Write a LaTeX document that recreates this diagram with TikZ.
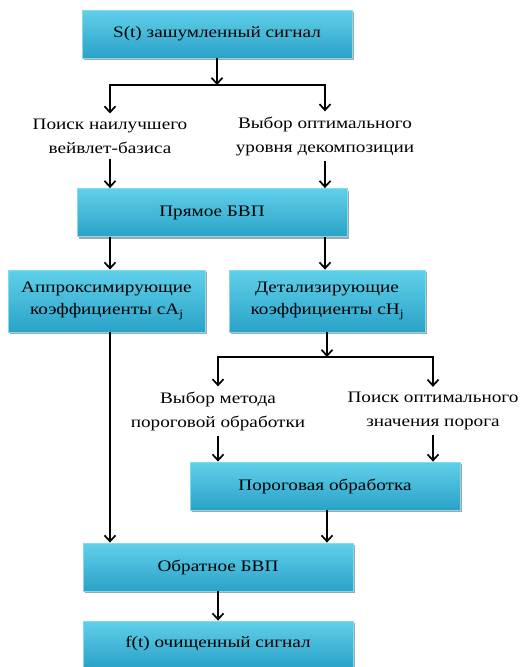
\documentclass[tikz,border=0pt]{standalone}
\usepackage{fontspec}
\setmainfont{Liberation Serif}[FakeStretch=1.2]
\usepackage{xcolor}
\usetikzlibrary{arrows.meta,shadows}

\definecolor{boxtop}{RGB}{96,208,234}
\definecolor{boxbot}{RGB}{42,162,200}
\definecolor{boxedge}{RGB}{130,218,238}

\begin{document}
\begin{tikzpicture}[x=1pt, y=-1pt,
    blk/.style={rectangle, draw=boxedge, line width=0.8pt, top color=boxtop, bottom color=boxbot,
        drop shadow={shadow xshift=2pt, shadow yshift=-2pt, opacity=0.35, fill=black},
        align=center, minimum width=270pt, minimum height=48pt, inner sep=0pt,
        font=\fontsize{16}{22}\selectfont},
    lbl/.style={align=center, inner sep=5pt, font=\fontsize{16}{24}\selectfont},
    arr/.style={-{Straight Barb[length=6pt,width=11pt]}, line width=1.7pt}]

    \useasboundingbox (0,0) rectangle (524,667);

    % Row 1: noisy signal
    \node[blk] (src) at (217,34) {S(t) зашумленный сигнал};
    \coordinate (j1) at (217,85);

    % Row 2: basis and level choice
    \node[lbl] (basis) at (110,136) {Поиск наилучшего\\вейвлет-базиса};
    \node[lbl] (level) at (325,136) {Выбор оптимального\\уровня декомпозиции};

    % Row 3: forward transform
    \node[blk] (dwt) at (212,212.5) {Прямое БВП};

    % Row 4: coefficients
    \node[blk, minimum width=197pt, minimum height=62pt] (appr) at (106.5,301) {Аппроксимирующие\\коэффициенты cA$_{\mathrm{j}}$};
    \node[blk, minimum width=196pt, minimum height=62pt] (det) at (327,301) {Детализирующие\\коэффициенты cH$_{\mathrm{j}}$};
    \coordinate (j2) at (327,357);

    % Row 5: threshold choice
    \node[lbl] (method) at (218,411) {Выбор метода\\пороговой обработки};
    \node[lbl] (value) at (433,411) {Поиск оптимального\\значения порога};

    % Row 6: thresholding
    \node[blk] (thr) at (325,486) {Пороговая обработка};

    % Row 7: inverse transform and result
    \node[blk] (idwt) at (218,567) {Обратное БВП};
    \node[blk, minimum height=46pt] (out) at (218,644) {f(t) очищенный сигнал};

    % Arrows
    \draw[arr] (src) -- (j1);
    \draw[arr] (j1) -| (basis);
    \draw[arr] (j1) -| (level);
    \draw[arr] (basis) -- (basis |- dwt.north);
    \draw[arr] (level) -- (level |- dwt.north);
    \draw[arr] (dwt.south -| basis) -- (basis |- appr.north);
    \draw[arr] (dwt.south -| level) -- (level |- det.north);
    \draw[arr] (appr.south -| basis) -- (basis |- idwt.north);
    \draw[arr] (det) -- (j2);
    \draw[arr] (j2) -| (method);
    \draw[arr] (j2) -| (value);
    \draw[arr] (method) -- (method |- thr.north);
    \draw[arr] (value) -- (value |- thr.north);
    \draw[arr] (thr.south -| det) -- (det |- idwt.north);
    \draw[arr] (idwt) -- (out);
\end{tikzpicture}
\end{document}
